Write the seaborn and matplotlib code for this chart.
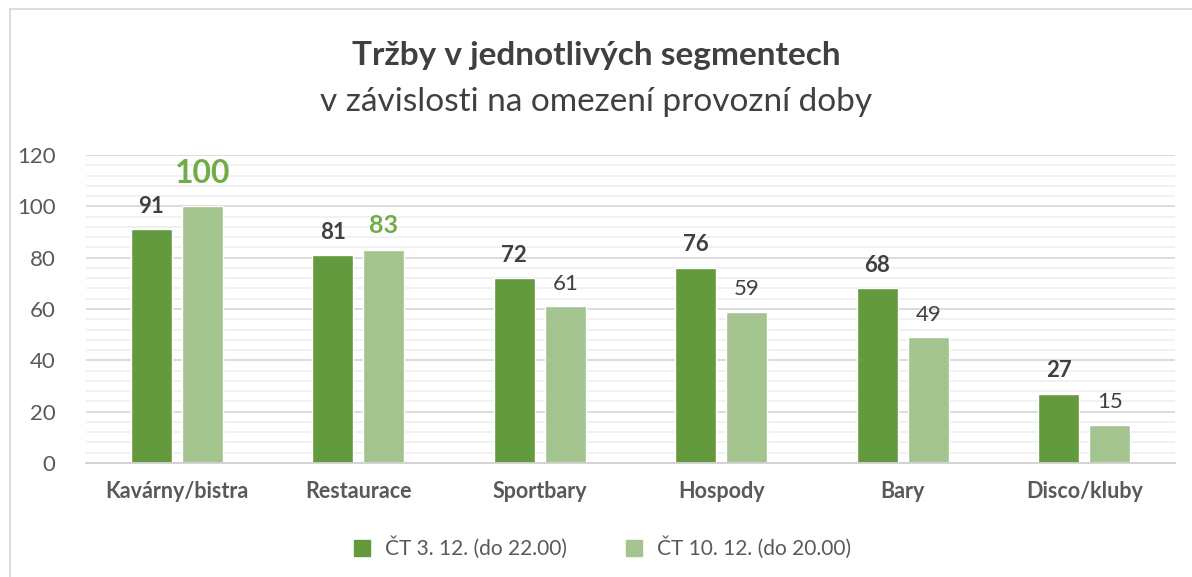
import pandas as pd
import seaborn as sns
import matplotlib.pyplot as plt
from matplotlib.lines import Line2D
from matplotlib.ticker import MultipleLocator

# values
segments = ['Kavárny/bistra', 'Restaurace', 'Sportbary', 'Hospody', 'Bary', 'Disco/kluby']
thu_3_12 = [91, 81, 72, 76, 68, 27]
thu_10_12 = [100, 83, 61, 59, 49, 15]
series = ['ČT 3. 12. (do 22.00)', 'ČT 10. 12. (do 20.00)']

df = pd.DataFrame({
    'segment': segments * 2,
    'serie': [series[0]] * len(segments) + [series[1]] * len(segments),
    'value': thu_3_12 + thu_10_12,
})

dark = '#629A3D'
light = '#A3C48F'
text_col = '#404040'

sns.set_theme(style='white')
plt.rcParams['font.family'] = ['Lato', 'DejaVu Sans']

fig = plt.figure(figsize=(11.92, 5.77), dpi=100)
ax = fig.add_axes([86 / 1192, 1 - 463 / 577, (1175 - 86) / 1192, (463 - 155) / 577])

sns.barplot(data=df, x='segment', y='value', hue='serie', palette=[dark, light],
            width=0.562, gap=0.196, saturation=1, legend=False, ax=ax)

ax.set_ylim(0, 120)
ax.yaxis.set_major_locator(MultipleLocator(20))
ax.yaxis.set_minor_locator(MultipleLocator(4))
ax.grid(axis='y', which='major', color='#D9D9D9', lw=1.3)
ax.grid(axis='y', which='minor', color='#F0F0F0', lw=1.3)
ax.set_axisbelow(True)
for s in ['top', 'right', 'left']:
    ax.spines[s].set_visible(False)
ax.spines['bottom'].set_color('#D0D0D0')
ax.spines['bottom'].set_linewidth(1.3)
ax.tick_params(axis='both', which='both', length=0)
ax.tick_params(axis='y', labelsize=16, labelcolor='#595959', pad=22)
ax.tick_params(axis='x', labelsize=15.5, labelcolor='#595959', pad=13)
for lbl in ax.get_xticklabels():
    lbl.set_fontweight('bold')
ax.set_xlabel('')
ax.set_ylabel('')

# value labels
bars1, bars2 = ax.containers[0], ax.containers[1]
for bar, v in zip(bars1, thu_3_12):
    ax.annotate(str(v), (bar.get_x() + bar.get_width() / 2, v), xytext=(0, 9),
                textcoords='offset points', ha='center', va='bottom',
                fontsize=16, fontweight='bold', color=text_col)
for i, (bar, v) in enumerate(zip(bars2, thu_10_12)):
    x = bar.get_x() + bar.get_width() / 2
    if i == 0:
        ax.annotate(str(v), (x, v), xytext=(0, 13), textcoords='offset points',
                    ha='center', va='bottom', fontsize=23, fontweight='bold', color='#70AD47')
    elif i == 1:
        ax.annotate(str(v), (x, v), xytext=(0, 9), textcoords='offset points',
                    ha='center', va='bottom', fontsize=18, fontweight='bold', color='#70AD47')
    else:
        ax.annotate(str(v), (x, v), xytext=(0, 9), textcoords='offset points',
                    ha='center', va='bottom', fontsize=16, color=text_col)

fig.text(0.5, 1 - 55 / 577, 'Tržby v jednotlivých segmentech', ha='center', va='center',
         fontsize=24, fontweight='bold', color=text_col)
fig.text(0.5, 1 - 102 / 577, 'v závislosti na omezení provozní doby', ha='center', va='center',
         fontsize=24, color=text_col)

handles = [Line2D([], [], marker='s', ls='', color=c, markersize=11) for c in [dark, light]]
fig.legend(handles, series, loc='center', bbox_to_anchor=(0.5, 1 - 548 / 577), ncol=2,
           frameon=False, fontsize=15, handletextpad=0.1, columnspacing=2.2,
           labelcolor='#595959')

# chart area border (left and top edges visible)
fig.add_artist(Line2D([10 / 1192, 10 / 1192], [0, 1 - 9 / 577], color='#D9D9D9', lw=1.3,
                      transform=fig.transFigure))
fig.add_artist(Line2D([10 / 1192, 1], [1 - 9 / 577, 1 - 9 / 577], color='#D9D9D9', lw=1.3,
                      transform=fig.transFigure))

fig.savefig('out.png', dpi=100, facecolor='white')
